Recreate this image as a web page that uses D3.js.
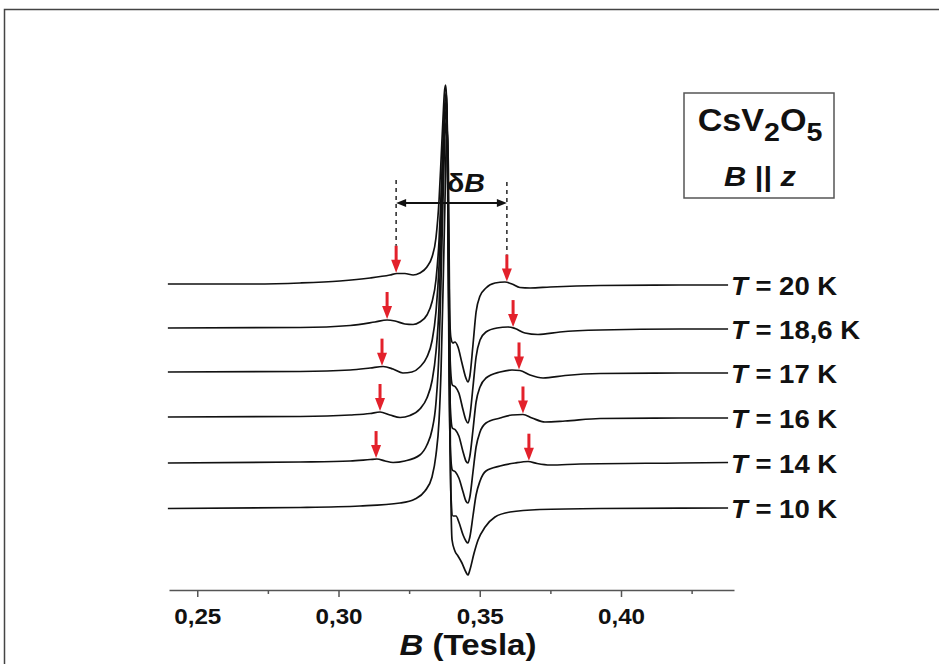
<!DOCTYPE html>
<html>
<head>
<meta charset="utf-8">
<script src="https://cdn.jsdelivr.net/npm/d3@7"></script>
<style>
body { margin: 0; background: #fff; }
text { font-family: "Liberation Sans", Arial, sans-serif; font-weight: bold; fill: #111; }
</style>
</head>
<body>
<div class="chart"></div>
<script>
// ESR spectra of CsV2O5, B || z, stacked by temperature (arbitrary units)
var temps = ["20", "18,6", "17", "16", "14", "10"];
var offsets = [22.4, 18.0, 13.6, 9.1, 4.55, 0];

var B_T20 = [0.2396,0.2687,0.2864,0.3005,0.3112,0.3182,0.3207,0.3235,0.3264,0.3288,0.3313,0.3331,0.3345,0.3356,0.3363,0.3370,0.3375,0.3379,0.3382,0.3386,0.3389,0.3393,0.3398,0.3405,0.3412,0.3423,0.3437,0.3451,0.3458,0.3465,0.3476,0.3487,0.3501,0.3522,0.3554,0.3589,0.3614,0.3642,0.3678,0.3749,0.3926,0.4209,0.4379];
var I_T20 = [0,0,0.1,0.3,0.6,0.9,1.05,1.05,0.9,1.1,1.7,2.7,4.6,8.4,12.4,16.6,19.2,19.9,18.9,13.4,4.4,-2.6,-5.4,-5.9,-5.8,-6.3,-7.9,-9.4,-9.8,-9.2,-6.1,-2.8,-1.2,-0.4,0.1,0.2,0,-0.35,-0.4,-0.3,-0.15,-0.1,-0.1];

var B_T186 = [0.2396,0.2864,0.3041,0.3129,0.3172,0.3200,0.3235,0.3264,0.3288,0.3313,0.3331,0.3345,0.3356,0.3363,0.3370,0.3377,0.3381,0.3384,0.3388,0.3391,0.3396,0.3403,0.3414,0.3426,0.3441,0.3451,0.3458,0.3465,0.3476,0.3487,0.3501,0.3522,0.3561,0.3600,0.3625,0.3660,0.3706,0.3784,0.3926,0.4209,0.4379];
var I_T186 = [0,0.05,0.25,0.6,0.8,0.7,0.4,0.35,0.6,1.3,2.6,4.8,8.8,13.3,18.3,22.6,23.5,22.3,13.8,3.8,-3.7,-5.7,-5.9,-6.5,-8.2,-9.2,-9.5,-8.8,-5.9,-2.9,-1.2,-0.4,0,0.1,-0.05,-0.5,-0.65,-0.4,-0.2,-0.1,-0.1];

var B_T17 = [0.2396,0.2864,0.3041,0.3112,0.3158,0.3193,0.3228,0.3260,0.3288,0.3313,0.3331,0.3345,0.3356,0.3363,0.3370,0.3377,0.3381,0.3384,0.3388,0.3391,0.3396,0.3403,0.3414,0.3426,0.3441,0.3451,0.3458,0.3465,0.3476,0.3487,0.3501,0.3522,0.3572,0.3614,0.3642,0.3678,0.3724,0.3802,0.3926,0.4209,0.4379];
var I_T17 = [0,0.05,0.2,0.4,0.55,0.3,-0.1,0,0.5,1.5,3.1,6.0,10.7,16.2,22.2,26.2,27.1,25.7,15.7,4.7,-3.6,-5.6,-5.8,-6.4,-8.0,-8.9,-9.1,-8.4,-5.8,-3.0,-1.5,-0.6,0,0.2,0.15,-0.3,-0.6,-0.35,-0.15,-0.1,-0.1];

var B_T16 = [0.2396,0.2864,0.3041,0.3112,0.3147,0.3182,0.3218,0.3253,0.3288,0.3313,0.3331,0.3345,0.3356,0.3363,0.3370,0.3377,0.3381,0.3384,0.3388,0.3391,0.3396,0.3403,0.3414,0.3426,0.3441,0.3451,0.3458,0.3465,0.3476,0.3487,0.3501,0.3522,0.3572,0.3614,0.3653,0.3685,0.3731,0.3802,0.3926,0.4209,0.4379];
var I_T16 = [0,0.05,0.2,0.35,0.5,0.2,-0.05,0.15,0.8,1.9,3.6,6.5,11.2,17.7,24.7,29.7,30.7,29.2,18.2,5.7,-3.3,-5.3,-5.5,-6.1,-7.5,-8.4,-8.6,-8.0,-5.5,-3.0,-1.5,-0.6,-0.1,0.2,0.25,-0.1,-0.5,-0.4,-0.15,-0.1,-0.1];

var B_T14 = [0.2396,0.2864,0.3041,0.3112,0.3136,0.3165,0.3193,0.3235,0.3288,0.3313,0.3331,0.3345,0.3356,0.3363,0.3370,0.3377,0.3382,0.3386,0.3389,0.3393,0.3398,0.3405,0.3416,0.3426,0.3441,0.3451,0.3458,0.3465,0.3476,0.3487,0.3501,0.3522,0.3572,0.3625,0.3671,0.3703,0.3749,0.3855,0.4209,0.4379];
var I_T14 = [-0.05,0.05,0.15,0.3,0.35,0.15,0,0.15,0.75,1.75,3.25,5.95,11.25,18.25,26.25,32.75,34.25,32.25,19.25,6.25,-3.25,-5.35,-5.35,-5.95,-7.25,-7.85,-8.05,-7.45,-5.35,-3.25,-1.85,-0.85,-0.35,-0.05,0.1,-0.1,-0.25,-0.15,-0.05,0];

var B_T10 = [0.2396,0.2864,0.3076,0.3218,0.3271,0.3306,0.3331,0.3345,0.3356,0.3363,0.3370,0.3377,0.3382,0.3386,0.3389,0.3393,0.3396,0.3402,0.3412,0.3423,0.3437,0.3451,0.3458,0.3465,0.3480,0.3494,0.3519,0.3554,0.3607,0.3713,0.3926,0.4379];
var I_T10 = [-0.05,0.05,0.2,0.5,0.9,1.7,3.1,5.3,8.8,13.8,21.8,30.8,36.8,37.5,33.8,20.8,5.8,-3.2,-4.3,-4.8,-5.5,-6.4,-6.7,-6.2,-4.5,-3.2,-1.9,-0.9,-0.4,-0.15,-0.05,0];

// field of the side lines (red arrows), T = 20, 18,6, 17, 16, 14 K
var arrowLeftB = [0.3204, 0.3172, 0.3154, 0.3147, 0.3133];
var arrowRightB = [0.3596, 0.3618, 0.3639, 0.3653, 0.3674];

var tickB = [0.25, 0.30, 0.35, 0.40];
var minorB = [0.275, 0.325, 0.375, 0.425];

var fields = [B_T20, B_T186, B_T17, B_T16, B_T14, B_T10];
var signals = [I_T20, I_T186, I_T17, I_T16, I_T14, I_T10];

var width = 939, height = 664;
var sx = 1.1; // the original lettering is a bit wide

var svg = d3.select(".chart").append("svg")
	.attr("width", width)
	.attr("height", height);

svg.append("rect")
	.attr("x", 4.5).attr("y", 9.5)
	.attr("width", 1000).attr("height", 1000)
	.attr("fill", "none")
	.attr("stroke", "#444")
	.attr("stroke-width", 1.5);

var x = d3.scaleLinear()
	.domain([0.24, 0.44])
	.range([169, 734]);

var y = d3.scaleLinear()
	.domain([-8.2, 42.3])
	.range([590, 85]);

function valueAt(bs, is, b) {
	for (var i = 0; i < bs.length - 1; i++) {
		if (b >= bs[i] && b <= bs[i+1]) {
			var t = (b - bs[i]) / (bs[i+1] - bs[i]);
			return is[i] + t * (is[i+1] - is[i]);
		}
	}
	return 0;
}

// text with optional italic parts, stretched horizontally
function label(x0, y0, parts, size, anchor) {
	var t = svg.append("text")
		.attr("transform", "translate(" + x0 + "," + y0 + ") scale(" + sx + ",1)")
		.attr("text-anchor", anchor || "start")
		.style("font-size", size + "px");
	parts.forEach(function(p){
		var s = t.append("tspan").text(p.t);
		if (p.i) s.style("font-style", "italic");
		if (p.size) s.style("font-size", p.size + "px");
		if (p.dy) s.attr("dy", p.dy);
	});
	return t;
}

// axis
var axis = svg.append("g")
	.attr("transform", "translate(0,590)")
	.call(d3.axisBottom(x)
		.tickValues(tickB)
		.tickFormat(function(d){ return d3.format(".2f")(d).replace(".", ","); })
		.tickSize(7)
		.tickSizeOuter(0));
axis.select(".domain").attr("stroke", "#555").attr("stroke-width", 1.5);
axis.selectAll(".tick line").attr("stroke", "#555").attr("stroke-width", 1.5);
axis.selectAll(".tick text")
	.attr("y", 34).attr("dy", 0)
	.attr("transform", "scale(" + sx + ",1)")
	.style("font-size", "22px")
	.style("font-family", "Liberation Sans, Arial, sans-serif")
	.style("font-weight", "bold")
	.attr("fill", "#111");

var minor = svg.append("g")
	.attr("transform", "translate(0,590)")
	.call(d3.axisBottom(x).tickValues(minorB).tickFormat("").tickSize(4).tickSizeOuter(0));
minor.select(".domain").remove();
minor.selectAll(".tick line").attr("stroke", "#555").attr("stroke-width", 1.5);

label(468, 655, [{t:"B", i:true}, {t:" (Tesla)"}], 30, "middle");

// spectra
var line = d3.line().curve(d3.curveMonotoneX);

fields.forEach(function(bs, k){
	var pts = bs.map(function(b, i){ return [x(b), y(signals[k][i] + offsets[k])]; });
	svg.append("path")
		.attr("d", line(pts))
		.attr("fill", "none")
		.attr("stroke", "#111")
		.attr("stroke-width", 1.7);
	var yb = y(offsets[k] + signals[k][signals[k].length - 1]);
	label(731, yb + 10, [{t:"T", i:true}, {t:" = " + temps[k] + " K"}], 25);
});

// red arrows on the side lines
function redArrow(b, k) {
	var tx = x(b);
	var ty = y(valueAt(fields[k], signals[k], b) + offsets[k]) - 1;
	var len = 27;
	svg.append("line")
		.attr("x1", tx).attr("x2", tx)
		.attr("y1", ty - len).attr("y2", ty - 9)
		.attr("stroke", "#e3212b")
		.attr("stroke-width", 3);
	svg.append("path")
		.attr("d", "M" + (tx - 5) + "," + (ty - 13) + "L" + (tx + 5) + "," + (ty - 13) + "L" + tx + "," + ty + "Z")
		.attr("fill", "#e3212b");
	return ty - len;
}

var topL = 0, topR = 0;
arrowLeftB.forEach(function(b, k){ var t = redArrow(b, k); if (k == 0) topL = t; });
arrowRightB.forEach(function(b, k){ var t = redArrow(b, k); if (k == 0) topR = t; });

// dB marker
var xl = x(arrowLeftB[0]), xr = x(arrowRightB[0]);
svg.append("line").attr("x1", xl).attr("x2", xl).attr("y1", 180).attr("y2", topL)
	.attr("stroke", "#333").attr("stroke-width", 1.6).attr("stroke-dasharray", "4,4");
svg.append("line").attr("x1", xr).attr("x2", xr).attr("y1", 182).attr("y2", topR)
	.attr("stroke", "#333").attr("stroke-width", 1.6).attr("stroke-dasharray", "4,4");
var ya = 203;
svg.append("line").attr("x1", xl + 6).attr("x2", xr - 6).attr("y1", ya).attr("y2", ya)
	.attr("stroke", "#111").attr("stroke-width", 2);
svg.append("path")
	.attr("d", "M" + xl + "," + ya + "L" + (xl + 10) + "," + (ya - 4) + "L" + (xl + 10) + "," + (ya + 4) + "Z")
	.attr("fill", "#111");
svg.append("path")
	.attr("d", "M" + xr + "," + ya + "L" + (xr - 10) + "," + (ya - 4) + "L" + (xr - 10) + "," + (ya + 4) + "Z")
	.attr("fill", "#111");
label(447, 192, [{t:"\u03b4"}, {t:"B", i:true}], 26);

// sample box
svg.append("rect")
	.attr("x", 684).attr("y", 93)
	.attr("width", 150).attr("height", 105)
	.attr("fill", "#fff")
	.attr("stroke", "#555")
	.attr("stroke-width", 1.5);
label(760, 131, [{t:"CsV"}, {t:"2", size:26, dy:10}, {t:"O", size:31, dy:-10}, {t:"5", size:26, dy:10}], 31, "middle");
label(760, 186, [{t:"B", i:true}, {t:" || "}, {t:"z", i:true}], 28, "middle");
</script>
</body>
</html>
